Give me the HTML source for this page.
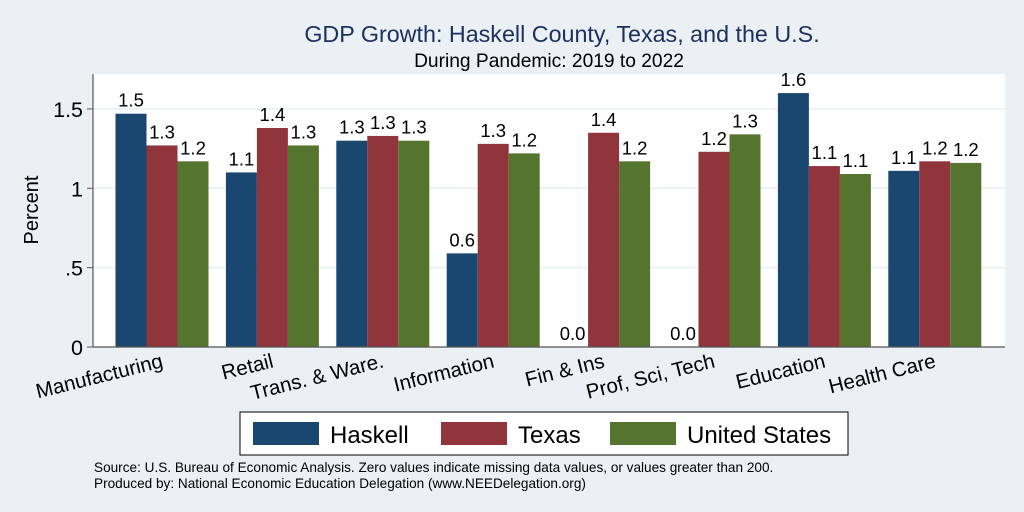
<!DOCTYPE html>
<html><head><meta charset="utf-8"><style>
body{margin:0;background:#eaf0f3;}
svg{display:block;font-family:"Liberation Sans",Arial,sans-serif;}
</style></head><body>
<svg id="chart" width="1024" height="512">
<rect x="0" y="0" width="1024" height="512" fill="#eaf0f3"/>
<text x="562" y="42" font-size="23.3" fill="#1c2f5e" text-anchor="middle">GDP Growth: Haskell County, Texas, and the U.S.</text>
<text x="549" y="67" font-size="19.2" fill="#000" text-anchor="middle">During Pandemic: 2019 to 2022</text>
<rect x="93" y="74" width="912" height="273" fill="#fff"/>
<g id="grid"></g>
<g id="bars"></g>
<g id="vals"></g>
<line x1="93" y1="74" x2="93" y2="347" stroke="#555" stroke-width="1.2"/>
<line x1="93" y1="347" x2="1005" y2="347" stroke="#555" stroke-width="1.2"/>
<g id="yticks"></g>
<g id="xlabels"></g>
<text transform="translate(38,210) rotate(-90)" font-size="20" text-anchor="middle">Percent</text>
<rect x="240" y="412" width="608" height="43" fill="#fff" stroke="#000" stroke-width="1"/>
<g><rect x="253" y="422" width="66" height="23" fill="#1a476f"/><text x="330" y="443" font-size="24">Haskell</text></g>
<g><rect x="441" y="422" width="66" height="23" fill="#90353b"/><text x="518" y="443" font-size="24">Texas</text></g>
<g><rect x="610" y="422" width="66" height="23" fill="#55752f"/><text x="687" y="443" font-size="24">United States</text></g>
<text x="94" y="472" font-size="13.6">Source: U.S. Bureau of Economic Analysis. Zero values indicate missing data values, or values greater than 200.</text>
<text x="94" y="488" font-size="13.6">Produced by: National Economic Education Delegation (www.NEEDelegation.org)</text>
</svg>
<script>
const categories=["Manufacturing","Retail","Trans. & Ware.","Information","Fin & Ins","Prof, Sci, Tech","Education","Health Care"];
const haskell=[1.47,1.10,1.30,0.59,0,0,1.60,1.11];
const texas=[1.27,1.38,1.33,1.28,1.35,1.23,1.14,1.17];
const us=[1.17,1.27,1.30,1.22,1.17,1.34,1.09,1.16];
const yTicks=[0,0.5,1,1.5];
const yTickLabels=["0",".5","1","1.5"];
const NS="http://www.w3.org/2000/svg";
function y(v){return 347-v*158.7;}
function gx(i){return 162+i*110.4;}
const series=[[haskell,"#1a476f","haskell"],[texas,"#90353b","texas"],[us,"#55752f","us"]];
const bw=31;
function mk(tag,attrs,parent){const e=document.createElementNS(NS,tag);for(const k in attrs)e.setAttribute(k,attrs[k]);document.getElementById(parent).appendChild(e);return e;}
yTicks.forEach((t,i)=>{
  if(t>0){const g=mk("line",{x1:94,x2:1005,y1:y(t),y2:y(t),stroke:"#e6eef2","stroke-width":1.5},"grid");
  
  }
  const tk=mk("line",{x1:87,x2:93,y1:y(t),y2:y(t),stroke:"#555"},"yticks");
  
  
  const tl=mk("text",{x:83,y:y(t)+8,"font-size":21.5,"text-anchor":"end"},"yticks");
  tl.textContent=yTickLabels[i];
  
  
});
categories.forEach((c,i)=>{
  series.forEach((s,j)=>{
    const v=s[0][i];const x=gx(i)+(j-1.5)*bw;
    const r=mk("rect",{x:x,y:y(v),width:bw,height:347-y(v),fill:s[1]},"bars");
    
    
    const t=mk("text",{x:x+bw/2,y:y(v)-7,"font-size":18.5,"text-anchor":"middle"},"vals");
    t.textContent=v.toFixed(1);
    
    
  });
  const l=mk("text",{transform:"translate("+(gx(i)+2)+",367) rotate(-14)","font-size":20.5,"text-anchor":"end"},"xlabels");
  l.textContent=c;
  
  
});
</script>
</body></html>
